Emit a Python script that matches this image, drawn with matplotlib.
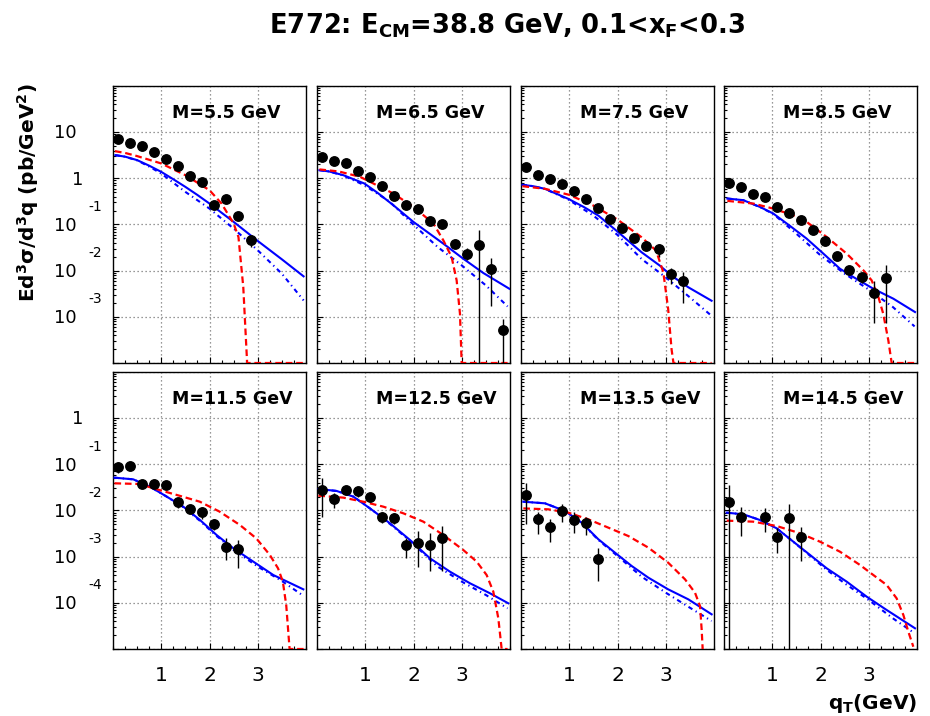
import numpy as np
import matplotlib
matplotlib.use('Agg')
import matplotlib.pyplot as plt
from matplotlib.ticker import LogLocator, NullFormatter, MultipleLocator, FixedLocator

plt.rcParams['mathtext.fontset'] = 'dejavusans'
plt.rcParams['font.family'] = ['DejaVu Sans']

# ---------------- data ----------------
mass_labels = ['M=5.5 GeV', 'M=6.5 GeV', 'M=7.5 GeV', 'M=8.5 GeV',
               'M=11.5 GeV', 'M=12.5 GeV', 'M=13.5 GeV', 'M=14.5 GeV']
x_tick_labels = ['1', '2', '3']

# M = 5.5 GeV
pq55 = [0.1, 0.35, 0.6, 0.85, 1.1, 1.35, 1.6, 1.85, 2.1, 2.35, 2.6, 2.85]
py55 = [6.96, 5.7, 4.99, 3.63, 2.65, 1.87, 1.13, 0.84, 0.27, 0.36, 0.151, 0.047]
elo55 = [0.25, 0.2, 0.18, 0.13, 0.1, 0.07, 0.05, 0.04, 0.02, 0.025, 0.015, 0.015]
ehi55 = [0.25, 0.2, 0.18, 0.13, 0.1, 0.07, 0.05, 0.04, 0.02, 0.025, 0.015, 0.013]
bq55 = [0.05, 0.25, 0.5, 0.75, 1.0, 1.25, 1.5, 1.75, 2.0, 2.5, 3.0, 3.5, 3.95]
by55 = [3.18, 2.95, 2.48, 1.88, 1.38, 0.955, 0.653, 0.436, 0.284, 0.114, 0.044, 0.0176, 0.00753]
dq55 = [0.05, 0.25, 0.5, 0.75, 1.0, 1.5, 2.0, 2.5, 3.0, 3.5, 3.95]
dy55 = [3.18, 2.93, 2.45, 1.8, 1.27, 0.509, 0.221, 0.0815, 0.0276, 0.0086, 0.00227]
rq55 = [0.04, 0.25, 0.5, 1.0, 1.5, 2.0, 2.25, 2.5, 2.6, 2.7, 2.78, 2.85, 3.95]
ry55 = [3.88, 3.55, 3.03, 2.1, 1.17, 0.553, 0.284, 0.105, 0.0537, 0.00442, 0.0001, 0, 0]

# M = 6.5 GeV
pq65 = [0.1, 0.35, 0.6, 0.85, 1.1, 1.35, 1.6, 1.85, 2.1, 2.35, 2.6, 2.85, 3.1, 3.35, 3.6, 3.85]
py65 = [2.93, 2.32, 2.17, 1.41, 1.08, 0.676, 0.41, 0.27, 0.218, 0.122, 0.101, 0.0379, 0.023, 0.0355, 0.0107, 0.000515]
elo65 = [0.12, 0.1, 0.09, 0.06, 0.05, 0.035, 0.025, 0.018, 0.015, 0.01, 0.009, 0.005, 0.0062, 0.0355, 0.009, 0.000515]
ehi65 = [0.12, 0.1, 0.09, 0.06, 0.05, 0.035, 0.025, 0.018, 0.015, 0.01, 0.009, 0.005, 0.008, 0.042, 0.0081, 0.0004]
bq65 = [0.05, 0.25, 0.546, 0.981, 1.25, 1.582, 1.997, 2.618, 3.03, 3.447, 3.986]
by65 = [1.5, 1.41, 1.17, 0.773, 0.49, 0.262, 0.114, 0.0385, 0.0182, 0.0089, 0.00406]
dq65 = [0.05, 0.25, 0.546, 0.981, 1.5, 1.997, 2.5, 3.0, 3.5, 3.95]
dy65 = [1.5, 1.41, 1.15, 0.711, 0.316, 0.0995, 0.0326, 0.013, 0.0048, 0.00168]
rq65 = [0.05, 0.45, 0.891, 1.582, 1.997, 2.412, 2.618, 2.79, 2.894, 2.963, 2.998, 3.1, 3.95]
ry65 = [1.56, 1.41, 1.08, 0.469, 0.241, 0.105, 0.0455, 0.0198, 0.00617, 0.00117, 0.0001, 0, 0]

# M = 7.5 GeV
pq75 = [0.1, 0.35, 0.6, 0.85, 1.1, 1.35, 1.6, 1.85, 2.1, 2.35, 2.6, 2.85, 3.1, 3.35]
py75 = [1.72, 1.21, 0.99, 0.76, 0.544, 0.359, 0.225, 0.132, 0.0843, 0.0512, 0.0343, 0.030, 0.0086, 0.00586]
elo75 = [0.07, 0.05, 0.04, 0.03, 0.022, 0.015, 0.01, 0.006, 0.004, 0.003, 0.003, 0.0105, 0.0035, 0.0039]
ehi75 = [0.07, 0.05, 0.04, 0.03, 0.022, 0.015, 0.01, 0.006, 0.004, 0.003, 0.003, 0.008, 0.0031, 0.0037]
bq75 = [0.03, 0.25, 0.497, 0.981, 1.3, 1.603, 2.017, 2.5, 2.88, 3.12, 3.47, 3.95]
by75 = [0.723, 0.676, 0.592, 0.359, 0.24, 0.156, 0.0679, 0.025, 0.0128, 0.00778, 0.00435, 0.00223]
dq75 = [0.03, 0.25, 0.497, 0.981, 1.5, 2.0, 2.5, 3.0, 3.5, 3.95]
dy75 = [0.723, 0.676, 0.589, 0.347, 0.156, 0.0594, 0.0179, 0.00716, 0.00264, 0.00105]
rq75 = [0.03, 0.5, 1.0, 1.5, 2.0, 2.5, 2.8, 2.95, 3.05, 3.12, 3.16, 3.25, 3.95]
ry75 = [0.676, 0.592, 0.439, 0.257, 0.128, 0.0528, 0.0272, 0.0092, 0.00147, 0.0002, 0.0001, 0, 0]

# M = 8.5 GeV
pq85 = [0.1, 0.35, 0.6, 0.85, 1.1, 1.35, 1.6, 1.85, 2.1, 2.35, 2.6, 2.85, 3.1, 3.35]
py85 = [0.773, 0.665, 0.469, 0.397, 0.24, 0.178, 0.124, 0.075, 0.0448, 0.0205, 0.0105, 0.00728, 0.00333, 0.00693]
elo85 = [0.03, 0.025, 0.018, 0.015, 0.01, 0.008, 0.006, 0.004, 0.003, 0.002, 0.002, 0.0018, 0.0026, 0.0062]
ehi85 = [0.03, 0.025, 0.018, 0.015, 0.01, 0.008, 0.006, 0.004, 0.003, 0.002, 0.002, 0.0018, 0.0025, 0.0061]
bq85 = [0.069, 0.4, 0.746, 1.02, 1.368, 1.713, 2.059, 2.404, 2.68, 3.095, 3.51, 3.959]
by85 = [0.365, 0.336, 0.24, 0.173, 0.0931, 0.0494, 0.0234, 0.011, 0.00728, 0.00406, 0.00247, 0.00127]
dq85 = [0.069, 0.4, 0.746, 1.02, 1.5, 2.0, 2.5, 3.0, 3.5, 3.95]
dy85 = [0.365, 0.336, 0.238, 0.17, 0.0631, 0.0215, 0.0086, 0.0039, 0.00163, 0.00062]
rq85 = [0.069, 0.608, 1.02, 1.437, 1.713, 2.128, 2.542, 2.888, 3.06, 3.2, 3.3, 3.406, 3.475, 3.55, 3.95]
ry85 = [0.325, 0.284, 0.221, 0.158, 0.114, 0.0537, 0.0234, 0.0102, 0.00617, 0.00268, 0.00117, 0.000308, 0.0001, 0, 0]

# M = 11.5 GeV
pq115 = [0.1, 0.35, 0.6, 0.85, 1.1, 1.35, 1.6, 1.85, 2.1, 2.35, 2.6]
py115 = [0.0861, 0.0906, 0.0375, 0.0369, 0.0351, 0.0153, 0.0108, 0.0093, 0.00502, 0.00165, 0.00144]
elo115 = [0.022, 0.008, 0.003, 0.003, 0.003, 0.0038, 0.0015, 0.0028, 0.0012, 0.0008, 0.00088]
ehi115 = [0.028, 0.008, 0.003, 0.003, 0.003, 0.0037, 0.0015, 0.0028, 0.0015, 0.00085, 0.00086]
bq115 = [0.03, 0.42, 0.767, 1.112, 1.457, 1.803, 2.148, 2.494, 2.908, 3.323, 3.945]
by115 = [0.0514, 0.0473, 0.0328, 0.02, 0.0121, 0.00622, 0.00294, 0.00152, 0.00078, 0.0004, 0.000196]
dq115 = [0.03, 0.42, 0.767, 1.112, 1.457, 1.8, 2.148, 2.5, 3.0, 3.5, 3.95]
dy115 = [0.0514, 0.0473, 0.0328, 0.02, 0.0118, 0.006, 0.0028, 0.0014, 0.00061, 0.000297, 0.000141]
rq115 = [0.03, 0.545, 0.96, 1.37, 1.8, 2.21, 2.63, 2.97, 3.25, 3.42, 3.52, 3.59, 3.66, 3.75, 3.95]
ry115 = [0.0388, 0.0375, 0.0278, 0.021, 0.0155, 0.00944, 0.00485, 0.00249, 0.00109, 0.00056, 0.000288, 0.0000897, 0.00001, 0, 0]

# M = 12.5 GeV
pq125 = [0.1, 0.35, 0.6, 0.85, 1.1, 1.35, 1.6, 1.85, 2.1, 2.35, 2.6]
py125 = [0.0278, 0.0177, 0.0278, 0.0265, 0.02, 0.00711, 0.00689, 0.00179, 0.00201, 0.00179, 0.0025]
elo125 = [0.0205, 0.0066, 0.0042, 0.0065, 0.002, 0.0018, 0.0019, 0.00084, 0.0014, 0.0013, 0.002]
ehi125 = [0.022, 0.0059, 0.0067, 0.0063, 0.002, 0.0023, 0.0018, 0.0007, 0.0015, 0.0014, 0.0022]
bq125 = [0.028, 0.407, 0.753, 1.098, 1.513, 1.927, 2.342, 2.756, 3.171, 3.585, 3.965]
by125 = [0.0292, 0.0265, 0.02, 0.0111, 0.00527, 0.0023, 0.00092, 0.000473, 0.000265, 0.000161, 0.0000977]
dq125 = [0.028, 0.407, 0.753, 1.098, 1.513, 1.927, 2.5, 3.0, 3.5, 3.95]
dy125 = [0.0292, 0.0265, 0.02, 0.0111, 0.0051, 0.0022, 0.00061, 0.000288, 0.000148, 0.000076]
rq125 = [0.028, 0.546, 0.96, 1.375, 1.79, 2.204, 2.618, 3.03, 3.31, 3.516, 3.654, 3.758, 3.827, 3.9, 3.95]
ry125 = [0.021, 0.019, 0.0155, 0.0121, 0.00869, 0.00573, 0.00294, 0.0014, 0.00078, 0.0004, 0.000175, 0.0000462, 0.00001, 0, 0]

# M = 13.5 GeV
pq135 = [0.1, 0.35, 0.6, 0.85, 1.1, 1.35, 1.6]
py135 = [0.022, 0.00644, 0.00433, 0.0096, 0.00634, 0.00527, 0.000906]
elo135 = [0.017, 0.0034, 0.0023, 0.004, 0.0031, 0.0023, 0.00061]
ehi135 = [0.0168, 0.003, 0.0021, 0.004, 0.003, 0.0021, 0.00066]
bq135 = [0.048, 0.497, 0.912, 1.257, 1.603, 1.948, 2.294, 2.639, 3.05, 3.468, 3.951]
by135 = [0.0155, 0.0143, 0.00975, 0.00546, 0.00238, 0.00122, 0.000628, 0.000351, 0.000196, 0.000119, 0.0000564]
dq135 = [0.048, 0.497, 0.912, 1.257, 1.603, 1.948, 2.5, 3.0, 3.5, 3.95]
dy135 = [0.0155, 0.0143, 0.00975, 0.0054, 0.0023, 0.00115, 0.000369, 0.000166, 0.0000785, 0.0000404]
rq135 = [0.048, 0.566, 0.981, 1.395, 1.81, 2.224, 2.639, 3.05, 3.399, 3.606, 3.71, 3.744, 3.765]
ry135 = [0.0111, 0.0106, 0.00897, 0.00644, 0.00425, 0.0028, 0.00157, 0.000741, 0.000323, 0.000166, 0.0000855, 0.0000267, 0.00001]

# M = 14.5 GeV
pq145 = [0.1, 0.35, 0.85, 1.1, 1.35, 1.6]
py145 = [0.015, 0.00736, 0.00736, 0.00272, 0.00678, 0.00262]
elo145 = [0.015, 0.0046, 0.0039, 0.0015, 0.00678, 0.0018]
ehi145 = [0.0207, 0.0047, 0.0038, 0.0014, 0.0068, 0.0017]
bq145 = [0.055, 0.401, 0.746, 1.092, 1.437, 1.782, 2.128, 2.542, 2.957, 3.371, 3.959]
by145 = [0.00897, 0.00826, 0.00622, 0.00411, 0.00211, 0.00109, 0.00056, 0.000288, 0.000136, 0.00007, 0.0000281]
dq145 = [0.055, 0.401, 0.746, 1.092, 1.437, 1.782, 2.128, 2.5, 3.0, 3.5, 3.95]
dy145 = [0.00897, 0.00826, 0.00622, 0.00411, 0.0021, 0.00105, 0.00052, 0.000265, 0.000115, 0.0000462, 0.0000219]
rq145 = [0.055, 0.608, 1.092, 1.575, 1.99, 2.404, 2.818, 3.095, 3.371, 3.578, 3.717, 3.82, 3.924]
ry145 = [0.00603, 0.00573, 0.00461, 0.00321, 0.00211, 0.00128, 0.000661, 0.0004, 0.000244, 0.000125, 0.0000546, 0.0000238, 0.0000112]

panels = [
    (pq55, py55, elo55, ehi55, bq55, by55, dq55, dy55, rq55, ry55),
    (pq65, py65, elo65, ehi65, bq65, by65, dq65, dy65, rq65, ry65),
    (pq75, py75, elo75, ehi75, bq75, by75, dq75, dy75, rq75, ry75),
    (pq85, py85, elo85, ehi85, bq85, by85, dq85, dy85, rq85, ry85),
    (pq115, py115, elo115, ehi115, bq115, by115, dq115, dy115, rq115, ry115),
    (pq125, py125, elo125, ehi125, bq125, by125, dq125, dy125, rq125, ry125),
    (pq135, py135, elo135, ehi135, bq135, by135, dq135, dy135, rq135, ry135),
    (pq145, py145, elo145, ehi145, bq145, by145, dq145, dy145, rq145, ry145),
]

# y ranges per row and which decades get labels
row_ylim = [(1e-4, 1e2), (1e-5, 1e1)]
row_label_exps = [[1, 0, -1, -2, -3], [0, -1, -2, -3, -4]]

# ---------------- layout ----------------
W, H = 930, 716
fig = plt.figure(figsize=(W / 100, H / 100), dpi=100)
col_left = [113, 317, 521, 724]
row_top = [86, 372]
pw, ph = 193, 277

PX = 0.72  # points per pixel at dpi=100

for i, (pq, py, elo, ehi, bq, by, dq, dy, rq, ry) in enumerate(panels):
    r, c = divmod(i, 4)
    left = col_left[c] / W
    bottom = 1 - (row_top[r] + ph) / H
    ax = fig.add_axes([left, bottom, pw / W, ph / H])
    ax.set_yscale('log')
    ylo, yhi = row_ylim[r]
    ax.set_xlim(0, 4)
    ax.set_ylim(ylo, yhi)

    ax.grid(True, which='major', color='#777777', linestyle=(0, (1, 2.2)), linewidth=0.9)

    ax.plot(dq, dy, color='#0000ff', lw=1.5, linestyle=(0, (2.2, 1.8, 0.6, 1.8)), zorder=3)
    ax.plot(bq, by, color='#0000ff', lw=1.5, linestyle='-', zorder=3)
    ax.plot(rq, np.clip(np.array(ry, dtype=float), ylo, None), color='#ff0000', lw=1.6,
            linestyle=(0, (3.0, 1.7)), zorder=3)
    ax.errorbar(pq, py, yerr=[elo, ehi], fmt='o', color='black', ms=6.8,
                elinewidth=1.0, capsize=0, zorder=5)

    ax.text(0.305, 0.883, mass_labels[i], transform=ax.transAxes, ha='left',
            va='baseline', fontsize=12.5, fontweight='bold')

    # ticks
    ax.xaxis.set_major_locator(FixedLocator([1, 2, 3]))
    ax.xaxis.set_minor_locator(MultipleLocator(0.25))
    ax.yaxis.set_major_locator(LogLocator(base=10, numticks=20))
    ax.yaxis.set_minor_locator(LogLocator(base=10, subs=np.arange(2, 10), numticks=20))
    ax.yaxis.set_major_formatter(NullFormatter())
    ax.yaxis.set_minor_formatter(NullFormatter())
    ax.tick_params(axis='both', which='both', direction='in', top=False, right=False)
    ax.tick_params(axis='x', which='major', length=4.0, width=0.8, pad=12.5, labelsize=14.5)
    ax.tick_params(axis='x', which='minor', length=2.0, width=0.8)
    ax.tick_params(axis='y', which='major', length=4.0, width=0.8)
    ax.tick_params(axis='y', which='minor', length=2.0, width=0.8)
    if r == 0:
        ax.set_xticklabels([])
    else:
        ax.set_xticklabels(x_tick_labels)
    for s in ax.spines.values():
        s.set_linewidth(1.0)

    if c == 0:
        ytr = ax.get_yaxis_transform()
        for e in row_label_exps[r]:
            if e == 0:
                ax.annotate('1', xy=(0, 10.0 ** e), xycoords=ytr,
                            xytext=(-30 * PX, -6.3 * PX), textcoords='offset points',
                            ha='right', va='baseline', fontsize=13)
            else:
                ax.annotate('10', xy=(0, 10.0 ** e), xycoords=ytr,
                            xytext=(-36 * PX, -6.3 * PX), textcoords='offset points',
                            ha='right', va='baseline', fontsize=13)
                if e != 1:
                    ax.annotate(str(e), xy=(0, 10.0 ** e), xycoords=ytr,
                                xytext=(-25 * PX, 13.6 * PX), textcoords='offset points',
                                ha='left', va='baseline', fontsize=10)

fig.text(0.545, 1 - 34 / H, r'E772: E$_{\mathbf{CM}}$=38.8 GeV, 0.1<x$_{\mathbf{F}}$<0.3',
         ha='center', va='baseline', fontsize=18.5, fontweight='bold')
fig.text(0.030, 1 - 193 / H, r'$\mathbf{Ed^{3}\sigma/d^{3}q\ (pb/GeV^{2})}$',
         rotation=90, ha='center', va='center', fontsize=14.5)
fig.text(917 / W, 1 - 709 / H, r'q$_{\mathbf{T}}$(GeV)', ha='right', va='baseline',
         fontsize=14.5, fontweight='bold')

fig.savefig('out.png', dpi=100)
